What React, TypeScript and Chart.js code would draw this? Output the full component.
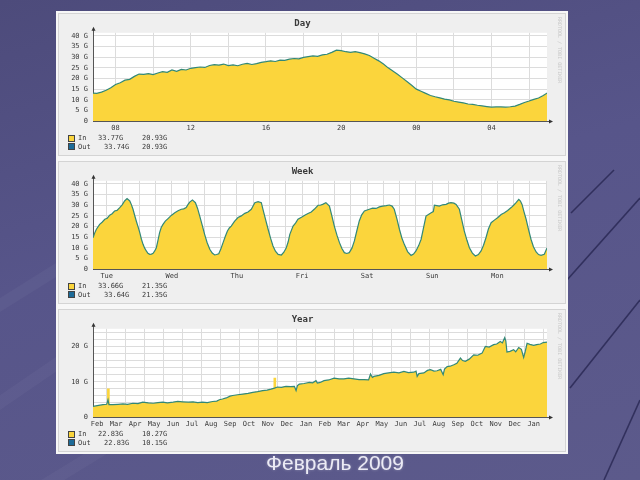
import React, { useEffect, useRef } from 'react';
import { Chart, registerables } from 'chart.js';

Chart.register(...registerables);

// ---------------- DATA ----------------
// Day graph: 15-minute samples starting 06:45 (hours; 24+ = next day)
const DAY_START = 6.75;
const DAY_STEP = 0.25;
const dayTraffic = [
  13.1, 13.0, 13.6, 14.5, 15.6, 17.2, 18.0, 19.2, 19.6, 21.0,
  22.1, 21.9, 22.3, 21.8, 22.6, 23.2, 22.9, 24.0, 23.4, 24.3,
  24.0, 24.8, 25.1, 25.4, 25.2, 26.1, 26.5, 26.3, 26.8, 26.1,
  26.4, 26.0, 26.7, 27.1, 26.6, 27.0, 27.6, 27.9, 28.3, 28.0,
  28.6, 28.5, 29.1, 29.4, 29.2, 29.9, 30.3, 30.6, 30.4, 31.1,
  31.4, 32.3, 33.3, 33.1, 32.6, 32.3, 32.6, 32.2, 31.6, 30.8,
  29.5, 28.3, 26.8, 25.0, 23.5, 22.0, 20.3, 18.6, 16.8, 15.0,
  14.0, 13.0, 12.0, 11.4, 10.9, 10.3, 9.9, 9.3, 8.9, 8.5,
  8.0, 7.8, 7.4, 7.1, 6.8, 6.5, 6.6, 6.6, 6.5, 6.7,
  7.0, 7.8, 8.7, 9.4, 10.2, 10.8, 12.0, 13.4,
];
const dayTickLabels = ['08', '12', '16', '20', '00', '04'];

// Week graph: hours from Tuesday 00:00
const weekHours = [
  6.95, 7.6, 8.2, 9.4, 10.3, 11.3, 12.2, 13.1, 14.0, 14.9, 15.8, 16.8, 17.7, 18.6, 19.5, 20.5,
  21.1, 21.7, 22.3, 22.9, 23.6, 24.2, 24.8, 25.4, 26.0, 26.6, 27.2, 27.85, 28.5, 29.1, 29.7,
  30.3, 30.9, 31.5, 32.1, 32.75, 33.6, 34.6, 35.8, 37.1, 38.3, 39.5, 40.4, 41.3, 42.0, 42.6,
  43.6, 44.7, 45.5, 46.3, 47.2, 48.1, 49.0, 50.0, 50.9, 51.8, 52.5, 53.3, 54.1, 54.9, 55.7,
  56.5, 57.2, 57.9, 59.1, 60.4, 61.6, 62.9, 64.1, 65.3, 66.0, 66.6, 67.8, 69.0, 69.6, 70.5,
  71.5, 72.4, 73.3, 74.2, 75.2, 76.4, 77.3, 78.2, 78.9, 79.5, 80.7, 81.6, 82.5, 83.8, 85.0,
  86.2, 87.4, 88.6, 89.9, 90.7, 91.6, 92.8, 94.1, 95.0, 95.9, 96.9, 97.8, 98.7, 99.6, 100.5,
  101.4, 102.4, 103.3, 104.2, 105.1, 106.0, 107.0, 108.8, 110.0, 111.3, 112.5, 113.7, 115.0,
  116.2, 117.2, 118.0, 119.0, 119.9, 120.8, 121.7, 122.9, 124.2, 125.1, 126.0, 127.0, 127.9,
  128.8, 129.7, 130.6, 131.6, 132.4, 132.8, 133.7, 134.6, 135.8, 137.1, 138.0, 138.9, 140.0,
  140.8, 142.0, 142.9, 143.8, 144.8, 145.7, 146.8, 147.9, 149.0, 150.0, 150.9, 151.8, 152.7,
  153.7, 154.9, 156.2, 157.4, 158.6, 159.8, 161.1, 162.0, 162.9, 163.9, 164.5, 165.1, 165.8,
  166.6, 167.5, 168.4, 169.3, 170.3, 171.2, 172.1, 173.3, 174.2, 174.5,
];
const weekTraffic = [
  14.7, 17.0, 18.7, 21.0, 22.0, 23.4, 23.9, 25.3, 26.0, 27.3, 27.6, 28.9, 30.2, 32.0, 33.1, 32.0,
  30.3, 28.1, 25.3, 22.6, 19.7, 17.1, 14.0, 11.6, 9.8, 8.5, 7.4, 6.9, 7.0, 7.4, 8.5,
  10.0, 13.5, 17.1, 19.5, 21.0, 22.5, 23.7, 25.2, 26.5, 27.4, 28.1, 28.3, 28.9, 30.4, 31.5,
  32.5, 31.2, 28.5, 24.9, 20.6, 16.3, 12.5, 9.3, 7.5, 6.6, 6.8, 7.2, 9.5, 12.4, 15.3,
  17.9, 19.3, 20.2, 22.4, 24.2, 25.0, 26.2, 26.8, 28.1, 29.8, 31.2, 31.7, 31.2, 28.1, 23.6,
  18.7, 14.5, 10.8, 8.4, 6.9, 6.6, 7.9, 10.0, 12.8, 16.3, 20.2, 21.6, 23.4, 24.3, 25.3,
  26.1, 26.8, 28.2, 30.0, 30.0, 30.4, 31.2, 29.6, 25.0, 20.2, 15.8, 12.4, 9.6, 7.7, 7.3,
  7.7, 9.8, 13.2, 18.0, 22.6, 25.5, 27.3, 28.1, 28.6, 28.5, 29.2, 29.6, 29.8,
  30.1, 29.6, 28.1, 23.5, 18.7, 14.6, 11.6, 8.2, 6.4, 7.0, 8.5, 11.0, 14.0,
  19.5, 24.9, 25.6, 26.5, 27.0, 30.0, 29.8, 29.6, 30.2, 30.4, 31.0, 31.2, 31.0,
  30.4, 28.1, 23.0, 17.9, 13.5, 10.0, 7.5, 6.1, 6.8, 8.5, 11.2, 14.7, 18.8,
  21.8, 23.0, 24.2, 25.6, 26.5, 27.5, 28.9, 30.0, 31.2, 32.8, 32.0, 30.4, 27.0,
  23.4, 18.5, 14.0, 10.5, 8.0, 6.8, 6.4, 6.9, 9.6, 9.9,
];
const weekDays = ['Tue', 'Wed', 'Thu', 'Fri', 'Sat', 'Sun', 'Mon'];

// Year graph: months from 1 Feb 2007 (1 = 1 Mar 2007 ... 24 = 1 Feb 2009)
const yearMonths = [
  0.28, 0.5, 0.8, 1.0, 1.07, 1.12, 1.33, 1.6, 1.86, 2.1, 2.38, 2.65, 2.9, 3.2, 3.45, 3.7,
  3.96, 4.2, 4.5, 4.75, 5.0, 5.3, 5.55, 5.8, 6.05, 6.3, 6.58, 6.8, 6.94, 7.1, 7.3, 7.5,
  7.64, 7.9, 8.17, 8.45, 8.7, 8.95, 9.22, 9.45, 9.66, 9.84, 10.0, 10.2, 10.45, 10.7, 10.89,
  10.98, 11.05, 11.15, 11.4, 11.68, 11.85, 12.03, 12.1, 12.25, 12.45, 12.7, 12.98, 13.25,
  13.5, 13.75, 14.03, 14.3, 14.56, 14.8, 14.9, 15.0, 15.08, 15.35, 15.6, 15.85, 16.13, 16.4,
  16.66, 16.9, 17.18, 17.3, 17.36, 17.45, 17.71, 17.9, 18.06, 18.25, 18.41, 18.6, 18.73,
  18.8, 18.94, 19.1, 19.29, 19.45, 19.64, 19.75, 19.9, 20.1, 20.34, 20.55, 20.78, 20.95,
  21.15, 21.39, 21.55, 21.74, 21.85, 21.97, 22.03, 22.09, 22.25, 22.44, 22.55, 22.71, 22.85,
  22.97, 23.05, 23.15, 23.3, 23.5, 23.65, 23.85, 24.0, 24.2, 24.27,
];
const yearTraffic = [
  3.0, 3.2, 3.5, 3.6, 4.9, 3.5, 3.5, 3.6, 3.7, 3.6, 3.9, 3.8, 4.2, 4.0, 3.9, 4.1,
  4.2, 4.0, 4.2, 4.4, 4.3, 4.2, 4.3, 4.1, 4.2, 4.1, 4.4, 4.5, 4.9, 5.1, 5.4, 5.9,
  6.1, 6.3, 6.5, 6.7, 7.0, 7.2, 7.5, 7.6, 7.9, 8.2, 8.5, 8.4, 8.7, 8.6, 8.7,
  7.5, 8.9, 9.3, 9.5, 9.8, 9.7, 10.3, 9.6, 9.8, 10.3, 10.5, 11.0, 10.8,
  10.8, 11.0, 10.8, 10.6, 10.6, 10.5, 12.2, 11.2, 11.5, 11.8, 12.3, 12.5, 12.7, 12.5,
  12.9, 12.6, 12.7, 13.0, 11.5, 12.3, 12.5, 13.2, 13.4, 13.0, 13.1, 13.5, 12.0,
  13.6, 14.3, 14.4, 14.8, 15.2, 16.7, 16.0, 15.8, 16.4, 17.6, 17.5, 18.1, 20.0,
  19.8, 20.5, 20.7, 21.4, 21.0, 22.5, 21.6, 18.4, 18.6, 19.1, 18.5, 19.7, 19.2,
  16.9, 18.5, 20.9, 20.6, 20.3, 20.5, 20.7, 21.1, 21.2, 21.0,
];
// short "In" peaks that rise above the Out line
const yearInPeakMonths = [1.09, 9.86];
const yearInPeakValues = [8.0, 11.0];
const yearMonthLabels = [
  'Feb', 'Mar', 'Apr', 'May', 'Jun', 'Jul', 'Aug', 'Sep', 'Oct', 'Nov', 'Dec', 'Jan',
  'Feb', 'Mar', 'Apr', 'May', 'Jun', 'Jul', 'Aug', 'Sep', 'Oct', 'Nov', 'Dec', 'Jan',
];

const dayLegend = [['In', '33.77G', '20.93G'], ['Out', '33.74G', '20.93G']];
const weekLegend = [['In', '33.66G', '21.35G'], ['Out', '33.64G', '21.35G']];
const yearLegend = [['In', '22.83G', '10.27G'], ['Out', '22.83G', '10.15G']];

// ---------------- STYLE ----------------
const IN_FILL = '#fbd53c';
const OUT_LINE = '#328878';
const OUT_KEY = '#1d6b98';
const GRID = '#dcdcdc';
const AXIS = '#555555';
const TEXT = '#3a3a3a';
const MONO = "'DejaVu Sans Mono', 'Liberation Mono', monospace";
const PANEL_W = 508;
const PANEL_H = 143;

type Pt = { x: number; y: number };
const pts = (xs: number[], ys: number[]): Pt[] => xs.map((x, i) => ({ x, y: ys[i] }));

const range = (from: number, to: number, step: number) => {
  const out: number[] = [];
  for (let v = from; v <= to + 1e-9; v += step) out.push(Math.round(v * 100) / 100);
  return out;
};

const plotBg = {
  id: 'plotBg',
  beforeDraw(chart: any) {
    const { ctx, chartArea: a } = chart;
    ctx.save();
    ctx.fillStyle = '#ffffff';
    ctx.fillRect(a.left, a.top, a.right - a.left, a.bottom - a.top);
    ctx.restore();
  },
};

const arrows = {
  id: 'arrows',
  afterDraw(chart: any) {
    const { ctx, chartArea: a } = chart;
    ctx.save();
    ctx.strokeStyle = AXIS;
    ctx.fillStyle = '#333';
    ctx.lineWidth = 1;
    const lx = Math.round(a.left) + 0.5;
    const by = Math.round(a.bottom) + 0.5;
    ctx.beginPath();
    ctx.moveTo(lx, a.top);
    ctx.lineTo(lx, a.top - 3);
    ctx.moveTo(a.right, by);
    ctx.lineTo(a.right + 3, by);
    ctx.stroke();
    ctx.beginPath();
    ctx.moveTo(lx, a.top - 6);
    ctx.lineTo(lx - 2, a.top - 2);
    ctx.lineTo(lx + 2, a.top - 2);
    ctx.closePath();
    ctx.fill();
    ctx.beginPath();
    ctx.moveTo(a.right + 6, by);
    ctx.lineTo(a.right + 2, by - 2);
    ctx.lineTo(a.right + 2, by + 2);
    ctx.closePath();
    ctx.fill();
    ctx.restore();
  },
};

type PanelProps = {
  top: number;
  title: string;
  xMin: number;
  xMax: number;
  xTicks: number[];
  xLabel: (v: number) => string;
  xGrid: (v: number) => boolean;
  yMax: number;
  yTicks: number[];
  yLabel: (v: number) => string;
  data: Pt[];
  peaks?: Pt[];
  legend: string[][];
};

function Panel(p: PanelProps) {
  const ref = useRef<HTMLCanvasElement | null>(null);
  useEffect(() => {
    if (!ref.current) return;
    const tickFont = { family: MONO, size: 7 };
    const datasets: any[] = [
      {
        type: 'line',
        label: 'Out',
        data: p.data,
        borderColor: OUT_LINE,
        borderWidth: 1.2,
        pointRadius: 0,
        fill: false,
        tension: 0,
        order: 0,
      },
      {
        type: 'line',
        label: 'In',
        data: p.data,
        borderColor: 'rgba(0,0,0,0)',
        borderWidth: 0,
        backgroundColor: IN_FILL,
        pointRadius: 0,
        fill: 'origin',
        tension: 0,
        order: 1,
      },
    ];
    if (p.peaks) {
      datasets.push({
        type: 'bar',
        label: 'In peaks',
        data: p.peaks,
        backgroundColor: IN_FILL,
        barThickness: 2,
        order: 2,
      });
    }
    const chart = new Chart(ref.current, {
      type: 'line',
      data: { datasets },
      options: {
        animation: false,
        responsive: false,
        maintainAspectRatio: false,
        events: [],
        layout: { padding: { left: 0, right: 19, top: 0, bottom: 23 } },
        plugins: {
          legend: { display: false },
          tooltip: { enabled: false },
          title: {
            display: true,
            text: p.title,
            color: TEXT,
            font: { family: MONO, size: 9, weight: 'bold' },
            padding: { top: 5, bottom: 4 },
          },
        },
        scales: {
          x: {
            type: 'linear',
            min: p.xMin,
            max: p.xMax,
            offset: false,
            afterBuildTicks: (s: any) => {
              s.ticks = p.xTicks.map((value) => ({ value }));
            },
            afterFit: (s: any) => {
              s.height = 12;
            },
            ticks: {
              autoSkip: false,
              maxRotation: 0,
              minRotation: 0,
              padding: 3,
              color: TEXT,
              font: tickFont,
              callback: (v: any) => p.xLabel(Number(v)),
            },
            grid: {
              offset: false,
              drawTicks: false,
              color: (c: any) => (c.tick && p.xGrid(c.tick.value) ? GRID : 'rgba(0,0,0,0)'),
            },
            border: { color: AXIS },
          },
          y: {
            type: 'linear',
            min: 0,
            max: p.yMax,
            afterBuildTicks: (s: any) => {
              s.ticks = p.yTicks.map((value) => ({ value }));
            },
            afterFit: (s: any) => {
              s.width = 35;
            },
            ticks: {
              autoSkip: false,
              padding: 5,
              color: TEXT,
              font: tickFont,
              callback: (v: any) => p.yLabel(Number(v)),
            },
            grid: { drawTicks: false, color: GRID },
            border: { color: AXIS },
          },
        },
      } as any,
      plugins: [plotBg, arrows],
    });
    return () => chart.destroy();
  }, []);

  const rowY = [125, 133.5];
  const v1x = [40, 46];
  return (
    <div
      style={{
        position: 'absolute',
        left: 58,
        top: p.top,
        width: PANEL_W,
        height: PANEL_H,
        background: '#efefef',
        boxShadow: 'inset 0 0 0 1px #d4d4d4',
        fontFamily: MONO,
      }}
    >
      <canvas
        ref={ref}
        width={PANEL_W}
        height={PANEL_H}
        style={{ position: 'absolute', left: 0, top: 0, width: PANEL_W, height: PANEL_H }}
      />
      {p.legend.map((row, i) => (
        <React.Fragment key={row[0]}>
          <div
            style={{
              position: 'absolute',
              left: 10,
              top: rowY[i] - 3.5,
              width: 5,
              height: 5,
              background: i === 0 ? IN_FILL : OUT_KEY,
              border: '1px solid #444',
            }}
          />
          <span style={{ position: 'absolute', left: 20, top: rowY[i] - 5, fontSize: 7, lineHeight: '10px', color: TEXT }}>
            {row[0]}
          </span>
          <span style={{ position: 'absolute', left: v1x[i], top: rowY[i] - 5, fontSize: 7, lineHeight: '10px', color: TEXT }}>
            {row[1]}
          </span>
          <span style={{ position: 'absolute', left: 84, top: rowY[i] - 5, fontSize: 7, lineHeight: '10px', color: TEXT }}>
            {row[2]}
          </span>
        </React.Fragment>
      ))}
      <div
        style={{
          position: 'absolute',
          left: 499,
          top: 4,
          writingMode: 'vertical-rl',
          fontSize: 5,
          lineHeight: '6px',
          color: '#c8c8c8',
          whiteSpace: 'nowrap',
        }}
      >
        RRDTOOL / TOBI OETIKER
      </div>
    </div>
  );
}

const gLabel5 = (v: number) => (v === 0 ? '0' : `${v} G`);

export default function App() {
  const dayData = pts(
    dayTraffic.map((_, i) => DAY_START + i * DAY_STEP),
    dayTraffic
  );
  const weekData = pts(weekHours, weekTraffic);
  const yearData = pts(yearMonths, yearTraffic);
  const yearPeaks = pts(yearInPeakMonths, yearInPeakValues);

  return (
    <div
      style={{
        position: 'fixed',
        left: 0,
        top: 0,
        width: 640,
        height: 480,
        overflow: 'hidden',
        background: 'linear-gradient(165deg, #4d4b7b 0%, #57558a 45%, #5c5a8b 100%)',
      }}
    >
      <svg width={640} height={480} style={{ position: 'absolute', left: 0, top: 0 }}>
        <g stroke="#ffffff" strokeOpacity={0.035} strokeWidth={12}>
          <line x1={-40} y1={330} x2={120} y2={230} />
          <line x1={-40} y1={430} x2={150} y2={300} />
          <line x1={20} y1={500} x2={200} y2={390} />
        </g>
        <g stroke="#24234d" strokeOpacity={0.75} strokeWidth={1.6}>
          <line x1={571} y1={213} x2={614} y2={170} />
          <line x1={567} y1={280} x2={640} y2={198} />
          <line x1={570} y1={388} x2={640} y2={300} />
          <line x1={604} y1={480} x2={640} y2={400} />
        </g>
      </svg>
      <div
        style={{
          position: 'absolute',
          left: 56,
          top: 11,
          width: 512,
          height: 443,
          background: '#f7f7f7',
        }}
      />
      <Panel
        top={13}
        title="Day"
        xMin={6.8}
        xMax={30.95}
        xTicks={range(8, 30, 2)}
        xLabel={(v) => (v % 4 === 0 ? dayTickLabels[(v - 8) / 4] : '')}
        xGrid={() => true}
        yMax={41.5}
        yTicks={range(0, 40, 5)}
        yLabel={gLabel5}
        data={dayData}
        legend={dayLegend}
      />
      <Panel
        top={161}
        title="Week"
        xMin={6.95}
        xMax={174.3}
        xTicks={range(12, 174, 6)}
        xLabel={(v) => (v % 24 === 12 ? weekDays[(v - 12) / 24] : '')}
        xGrid={() => true}
        yMax={41.5}
        yTicks={range(0, 40, 5)}
        yLabel={gLabel5}
        data={weekData}
        legend={weekLegend}
      />
      <Panel
        top={309}
        title="Year"
        xMin={0.28}
        xMax={24.2}
        xTicks={range(0.5, 24, 0.5)}
        xLabel={(v) => (v % 1 === 0.5 ? yearMonthLabels[v - 0.5] : '')}
        xGrid={(v) => v % 1 === 0}
        yMax={25}
        yTicks={range(0, 24, 2)}
        yLabel={(v) => (v % 10 === 0 ? (v === 0 ? '0' : `${v} G`) : '')}
        data={yearData}
        peaks={yearPeaks}
        legend={yearLegend}
      />
      <div
        style={{
          position: 'absolute',
          left: 215,
          top: 450,
          width: 240,
          textAlign: 'center',
          fontFamily: "'Liberation Sans', Arial, sans-serif",
          fontSize: 21,
          lineHeight: '26px',
          color: '#ecebf5',
          textShadow: '0 0 3px rgba(255,255,255,0.35)',
        }}
      >
        Февраль 2009
      </div>
    </div>
  );
}
